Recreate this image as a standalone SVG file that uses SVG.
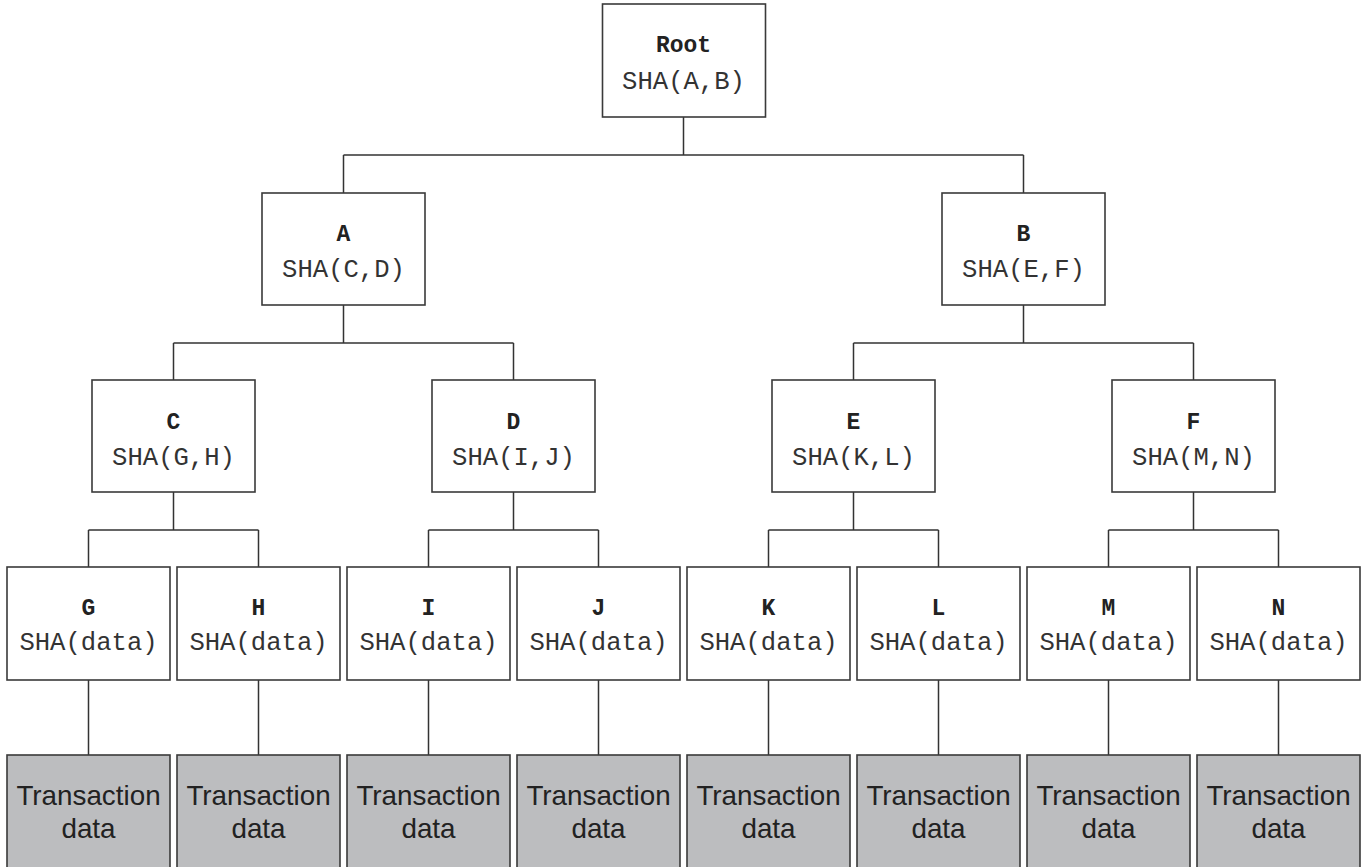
<svg xmlns="http://www.w3.org/2000/svg" width="1367" height="867" viewBox="0 0 1367 867">
<style>
.box{fill:#fff;stroke:#3a3a3a;stroke-width:1.6}
.tx{fill:#bcbdbf;stroke:#3a3a3a;stroke-width:1.6}
.lbl{font-family:"Liberation Mono","Courier New",monospace;font-weight:bold;font-size:23px;fill:#222;text-anchor:middle}
.sha{font-family:"Liberation Mono","Courier New",monospace;font-size:25.6px;fill:#333;text-anchor:middle}
.td{font-family:"Liberation Sans",Arial,sans-serif;font-size:27.8px;fill:#222;text-anchor:middle}
#connectors path{fill:none;stroke:#333;stroke-width:1.5}
</style>
<rect width="1367" height="867" fill="#fff"/>
<g id="connectors">
<path d="M683.5 117V155M343.5 155H1023.5M343.5 155V193M1023.5 155V193"/>
<path d="M343.5 305V343M173.5 343H513.5M173.5 343V380M513.5 343V380"/>
<path d="M1023.5 305V343M853.5 343H1193.5M853.5 343V380M1193.5 343V380"/>
<path d="M173.5 492V530M88.5 530H258.5M88.5 530V567M258.5 530V567"/>
<path d="M513.5 492V530M428.5 530H598.5M428.5 530V567M598.5 530V567"/>
<path d="M853.5 492V530M768.5 530H938.5M768.5 530V567M938.5 530V567"/>
<path d="M1193.5 492V530M1108.5 530H1278.5M1108.5 530V567M1278.5 530V567"/>
<path d="M88.5 680V755M258.5 680V755M428.5 680V755M598.5 680V755M768.5 680V755M938.5 680V755M1108.5 680V755M1278.5 680V755"/>
</g>
<g id="root"><rect class="box" x="602.5" y="4" width="163" height="113"/><text class="lbl" x="683.5" y="52">Root</text><text class="sha" x="683.5" y="89">SHA(A,B)</text></g>
<g id="A"><rect class="box" x="262" y="193" width="163" height="112"/><text class="lbl" x="343.5" y="241">A</text><text class="sha" x="343.5" y="277">SHA(C,D)</text></g>
<g id="B"><rect class="box" x="942" y="193" width="163" height="112"/><text class="lbl" x="1023.5" y="241">B</text><text class="sha" x="1023.5" y="277">SHA(E,F)</text></g>
<g id="C"><rect class="box" x="92" y="380" width="163" height="112"/><text class="lbl" x="173.5" y="429">C</text><text class="sha" x="173.5" y="465">SHA(G,H)</text></g>
<g id="D"><rect class="box" x="432" y="380" width="163" height="112"/><text class="lbl" x="513.5" y="429">D</text><text class="sha" x="513.5" y="465">SHA(I,J)</text></g>
<g id="E"><rect class="box" x="772" y="380" width="163" height="112"/><text class="lbl" x="853.5" y="429">E</text><text class="sha" x="853.5" y="465">SHA(K,L)</text></g>
<g id="F"><rect class="box" x="1112" y="380" width="163" height="112"/><text class="lbl" x="1193.5" y="429">F</text><text class="sha" x="1193.5" y="465">SHA(M,N)</text></g>
<g id="G"><rect class="box" x="7" y="567" width="163" height="113"/><text class="lbl" x="88.5" y="615">G</text><text class="sha" x="88.5" y="650">SHA(data)</text></g>
<g id="H"><rect class="box" x="177" y="567" width="163" height="113"/><text class="lbl" x="258.5" y="615">H</text><text class="sha" x="258.5" y="650">SHA(data)</text></g>
<g id="I"><rect class="box" x="347" y="567" width="163" height="113"/><text class="lbl" x="428.5" y="615">I</text><text class="sha" x="428.5" y="650">SHA(data)</text></g>
<g id="J"><rect class="box" x="517" y="567" width="163" height="113"/><text class="lbl" x="598.5" y="615">J</text><text class="sha" x="598.5" y="650">SHA(data)</text></g>
<g id="K"><rect class="box" x="687" y="567" width="163" height="113"/><text class="lbl" x="768.5" y="615">K</text><text class="sha" x="768.5" y="650">SHA(data)</text></g>
<g id="L"><rect class="box" x="857" y="567" width="163" height="113"/><text class="lbl" x="938.5" y="615">L</text><text class="sha" x="938.5" y="650">SHA(data)</text></g>
<g id="M"><rect class="box" x="1027" y="567" width="163" height="113"/><text class="lbl" x="1108.5" y="615">M</text><text class="sha" x="1108.5" y="650">SHA(data)</text></g>
<g id="N"><rect class="box" x="1197" y="567" width="163" height="113"/><text class="lbl" x="1278.5" y="615">N</text><text class="sha" x="1278.5" y="650">SHA(data)</text></g>
<g id="TG"><rect class="tx" x="7" y="755" width="163" height="120"/><text class="td" x="88.5" y="805">Transaction</text><text class="td" x="88.5" y="838">data</text></g>
<g id="TH"><rect class="tx" x="177" y="755" width="163" height="120"/><text class="td" x="258.5" y="805">Transaction</text><text class="td" x="258.5" y="838">data</text></g>
<g id="TI"><rect class="tx" x="347" y="755" width="163" height="120"/><text class="td" x="428.5" y="805">Transaction</text><text class="td" x="428.5" y="838">data</text></g>
<g id="TJ"><rect class="tx" x="517" y="755" width="163" height="120"/><text class="td" x="598.5" y="805">Transaction</text><text class="td" x="598.5" y="838">data</text></g>
<g id="TK"><rect class="tx" x="687" y="755" width="163" height="120"/><text class="td" x="768.5" y="805">Transaction</text><text class="td" x="768.5" y="838">data</text></g>
<g id="TL"><rect class="tx" x="857" y="755" width="163" height="120"/><text class="td" x="938.5" y="805">Transaction</text><text class="td" x="938.5" y="838">data</text></g>
<g id="TM"><rect class="tx" x="1027" y="755" width="163" height="120"/><text class="td" x="1108.5" y="805">Transaction</text><text class="td" x="1108.5" y="838">data</text></g>
<g id="TN"><rect class="tx" x="1197" y="755" width="163" height="120"/><text class="td" x="1278.5" y="805">Transaction</text><text class="td" x="1278.5" y="838">data</text></g>
</svg>
